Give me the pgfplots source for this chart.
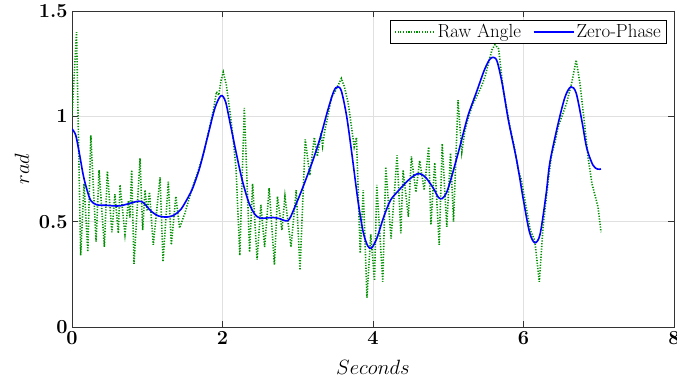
\documentclass[border=0pt]{standalone}
\usepackage{pgfplots}
\pgfplotsset{compat=1.18}
\definecolor{rawgreen}{RGB}{0,145,0}
\begin{document}
\begin{tikzpicture}
\begin{axis}[
  name=ax,
  scale only axis,
  width=602bp, height=316bp,
  xmin=0, xmax=8, ymin=0, ymax=1.5,
  xtick={0,2,4,6,8}, ytick={0,0.5,1,1.5},
  /pgf/number format/assume math mode=true,
  tick align=inside,
  major tick length=6bp,
  xtick pos=both, ytick pos=both,
  grid=major,
  major grid style={draw=black!12, line width=0.6bp},
  axis line style={draw=black!80, line width=0.9bp},
  tick style={draw=black!80, line width=0.9bp},
  tick label style={font=\fontsize{20}{20}\selectfont\bfseries},
  xticklabel style={yshift=-1bp},
  yticklabel style={xshift=-1bp},
  xlabel={$Seconds$}, ylabel={$rad$},
  label style={font=\fontsize{20}{20}\selectfont},
  xlabel style={at={(axis description cs:0.5,0)}, anchor=base, yshift=-47bp},
  ylabel style={at={(axis description cs:0,0.5)}, anchor=center, yshift=50bp},
  legend style={at={(1,1)}, xshift=-7bp, yshift=-9bp, anchor=north east, draw=black, line width=0.6bp,
    font=\fontsize{19}{19}\selectfont, legend columns=2,
    inner xsep=4bp, inner ysep=2bp,
    /tikz/every even column/.append style={column sep=10bp}},
  legend cell align=left,
]
\addlegendimage{rawgreen, line width=1.6bp, dash pattern=on 1.2bp off 1.5bp,
  legend image code/.code={\draw[rawgreen, line width=1.6bp, dash pattern=on 1.2bp off 1.5bp] (0bp,0bp) -- (40bp,0bp);}}
\addlegendentry{Raw Angle}
\addlegendimage{blue, line width=1.6bp,
  legend image code/.code={\draw[blue, line width=1.6bp] (0bp,0bp) -- (40bp,0bp);}}
\addlegendentry{Zero-Phase}
\addplot[rawgreen, line width=1.6bp, dash pattern=on 1.2bp off 1.5bp, forget plot] coordinates {
(0.00,1.00) (0.06,1.40) (0.115,0.34) (0.16,0.68) (0.21,0.357) (0.25,0.91)
(0.32,0.405) (0.36,0.745) (0.43,0.38) (0.47,0.74) (0.53,0.45) (0.57,0.63)
(0.616,0.445) (0.638,0.675) (0.704,0.44) (0.75,0.60) (0.77,0.52) (0.793,0.745) (0.824,0.30)
(0.904,0.80) (0.939,0.46) (0.97,0.65) (1.0,0.55) (1.03,0.64) (1.08,0.39)
(1.17,0.71) (1.21,0.31) (1.28,0.69) (1.32,0.39) (1.38,0.62) (1.43,0.47)
(1.50,0.54) (1.59,0.65) (1.68,0.745) (1.75,0.825) (1.81,0.92) (1.88,1.03)
(1.92,1.117) (1.95,1.10) (1.98,1.17) (2.01,1.21) (2.05,1.15) (2.10,1.02)
(2.14,0.90) (2.18,0.75) (2.23,0.34) (2.29,1.04) (2.36,0.356) (2.40,0.68)
(2.46,0.32) (2.51,0.58) (2.56,0.38) (2.62,0.66) (2.69,0.295) (2.73,0.62)
(2.79,0.46) (2.83,0.62) (2.91,0.38) (2.98,0.65) (3.03,0.27) (3.10,0.89)
(3.16,0.72) (3.22,0.90) (3.26,0.81) (3.31,0.92) (3.33,0.86) (3.36,0.935) (3.40,1.0)
(3.45,1.093) (3.50,1.12) (3.54,1.15) (3.58,1.18) (3.62,1.14) (3.67,1.063)
(3.71,0.96) (3.75,0.855) (3.78,0.90) (3.83,0.35) (3.87,0.65) (3.92,0.14)
(3.97,0.44) (4.02,0.22) (4.05,0.675) (4.13,0.215) (4.17,0.76) (4.24,0.42)
(4.32,0.815) (4.37,0.445) (4.40,0.745) (4.47,0.523) (4.51,0.81) (4.57,0.64)
(4.62,0.79) (4.68,0.65) (4.74,0.855) (4.77,0.485) (4.82,0.78) (4.88,0.39)
(4.92,0.87) (4.98,0.476) (5.03,0.825) (5.07,0.50) (5.13,1.077) (5.18,0.83)
(5.22,0.93) (5.27,1.0) (5.33,1.06) (5.40,1.11) (5.45,1.15) (5.49,1.19)
(5.54,1.26) (5.58,1.315) (5.62,1.34) (5.67,1.32) (5.73,1.125) (5.78,1.03)
(5.82,0.95) (5.88,0.85) (5.93,0.745) (5.97,0.70) (6.02,0.60) (6.09,0.46)
(6.15,0.41) (6.21,0.215) (6.26,0.476) (6.33,0.70) (6.37,0.81) (6.42,0.88)
(6.46,0.95) (6.52,1.01) (6.57,1.06) (6.64,1.157) (6.70,1.267) (6.75,1.157)
(6.82,0.935) (6.86,0.80) (6.91,0.68) (6.99,0.57) (7.03,0.45)
};
\addplot[blue, line width=1.6bp, smooth, tension=0.5, forget plot] coordinates {
(0.00,0.94) (0.05,0.91) (0.10,0.82) (0.15,0.72) (0.20,0.65) (0.25,0.60)
(0.33,0.58) (0.45,0.578) (0.55,0.575) (0.64,0.575) (0.75,0.585) (0.88,0.597)
(0.95,0.59) (1.05,0.55) (1.15,0.527) (1.26,0.522) (1.35,0.53) (1.45,0.56)
(1.55,0.62) (1.61,0.665) (1.70,0.76) (1.80,0.90) (1.90,1.04) (1.98,1.098)
(2.04,1.07) (2.10,0.97) (2.18,0.83) (2.26,0.70) (2.35,0.59) (2.43,0.535)
(2.50,0.517) (2.60,0.518) (2.67,0.52) (2.75,0.515) (2.87,0.505) (2.95,0.56)
(3.07,0.665) (3.20,0.79) (3.30,0.90) (3.40,1.03) (3.48,1.12) (3.53,1.14)
(3.58,1.12) (3.65,1.00) (3.72,0.82) (3.80,0.60) (3.87,0.45) (3.93,0.385)
(3.98,0.375) (4.05,0.42) (4.14,0.52) (4.23,0.60) (4.32,0.64) (4.45,0.69)
(4.55,0.72) (4.62,0.728) (4.70,0.71) (4.80,0.66) (4.87,0.615) (4.92,0.61)
(4.98,0.64) (5.05,0.72) (5.15,0.85) (5.26,1.0) (5.38,1.12) (5.48,1.22)
(5.55,1.27) (5.60,1.28) (5.65,1.26) (5.72,1.15) (5.80,0.98) (5.91,0.79)
(6.00,0.60) (6.08,0.45) (6.15,0.40) (6.22,0.44) (6.30,0.63) (6.35,0.78)
(6.45,0.95) (6.55,1.09) (6.63,1.14) (6.70,1.11) (6.78,0.97) (6.84,0.85)
(6.92,0.77) (6.98,0.75) (7.03,0.75)
};
\end{axis}
\pgfresetboundingbox
\path ([xshift=-72bp,yshift=-58bp]ax.south west) rectangle ([xshift=3bp,yshift=11bp]ax.north east);
\end{tikzpicture}
\end{document}
